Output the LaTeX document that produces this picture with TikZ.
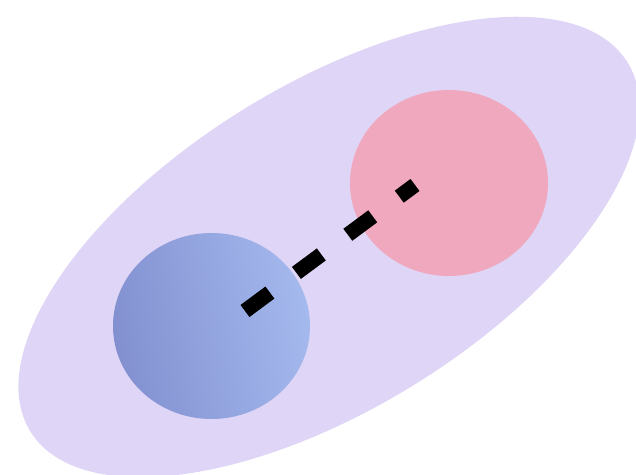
\documentclass[tikz,border=0pt]{standalone}
\usetikzlibrary{shapes.geometric}
\definecolor{lav}{HTML}{DFD5F6}
\definecolor{pinkc}{HTML}{F0A8BE}
\definecolor{blueL}{HTML}{8290D0}
\definecolor{blueR}{HTML}{A4B9EE}
\tikzset{
  blob/.style={ellipse, inner sep=0pt, draw=none},
  link/.style={line width=15pt, line cap=butt, dash pattern=on 31pt off 33pt}
}
\begin{document}
\begin{tikzpicture}[x=1pt,y=1pt]
\useasboundingbox (0,0) rectangle (636,474);
\begin{scope}
\clip (0,0) rectangle (636,474);
\node[blob, fill=lav, minimum width=702pt, minimum height=324pt, rotate=31.7] (outer) at (329,227) {};
\end{scope}
\node[blob, fill=pinkc, minimum width=198pt, minimum height=186pt] (pink) at (449,291) {};
\node[blob, left color=blueL, right color=blueR, shading angle=100, minimum width=197pt, minimum height=186pt] (blue) at (211.5,148) {};
\coordinate (s) at (245,163);
\coordinate (e) at (415,289);
\draw[link] (s) -- (e);
\end{tikzpicture}
\end{document}
